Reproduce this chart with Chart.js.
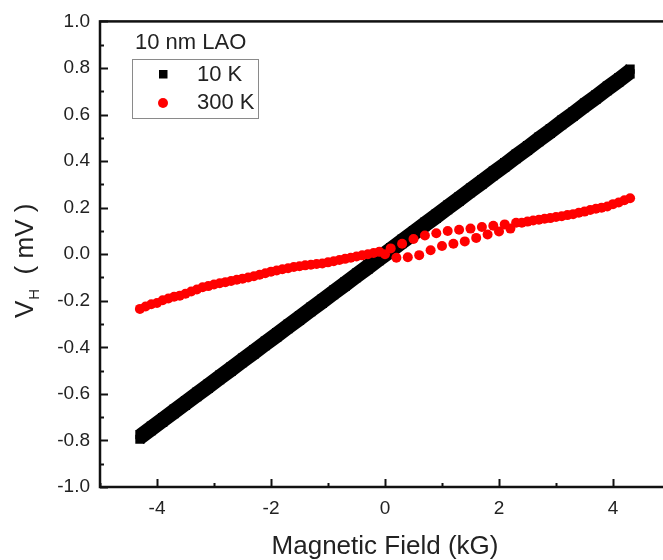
<!DOCTYPE html>
<html>
<head>
<meta charset="utf-8">
<title>Hall voltage, 10 nm LAO</title>
<script src="https://cdn.jsdelivr.net/npm/chart.js@4"></script>
<style>
  body { margin: 0; background: #fff; }
  #wrap { width: 663px; height: 560px; overflow: hidden; }
</style>
</head>
<body>
<div id="wrap"><canvas id="hall" width="680" height="560"></canvas></div>
<script>
// field sweep points (kG)
const fieldA = [-4.3,-4.1,-3.9,-3.7,-3.5,-3.3,-3.1,-2.9,-2.7,-2.5,-2.3,-2.1,-1.9,-1.7,-1.5,-1.3,-1.1,-0.9,-0.7,-0.5,-0.3,-0.1,
  0.1,0.3,0.5,0.7,0.9,1.1,1.3,1.5,1.7,1.9,2.1,2.3,2.5,2.7,2.9,3.1,3.3,3.5,3.7,3.9,4.1,4.3];
const fieldB = [-4.2,-4.0,-3.8,-3.6,-3.4,-3.2,-3.0,-2.8,-2.6,-2.4,-2.2,-2.0,-1.8,-1.6,-1.4,-1.2,-1.0,-0.8,-0.6,-0.4,-0.2,0.0,
  0.2,0.4,0.6,0.8,1.0,1.2,1.4,1.6,1.8,2.0,2.2,2.4,2.6,2.8,3.0,3.2,3.4,3.6,3.8,4.0,4.2];

// V_H (mV) at 10 K, two sweeps
const vh10Up = [-0.795,-0.758,-0.722,-0.685,-0.649,-0.612,-0.576,-0.539,-0.503,-0.466,-0.43,-0.393,-0.357,-0.32,-0.284,-0.247,-0.211,-0.174,-0.138,-0.101,-0.065,-0.028,
  0.008,0.045,0.081,0.118,0.154,0.191,0.227,0.264,0.3,0.337,0.373,0.41,0.446,0.483,0.519,0.556,0.592,0.629,0.665,0.702,0.738,0.775];
const vh10Down = [-0.775,-0.738,-0.702,-0.665,-0.629,-0.592,-0.556,-0.519,-0.483,-0.446,-0.41,-0.373,-0.337,-0.3,-0.264,-0.227,-0.191,-0.154,-0.118,-0.081,-0.045,-0.008,
  0.028,0.065,0.101,0.138,0.174,0.211,0.247,0.284,0.32,0.357,0.393,0.43,0.466,0.503,0.539,0.576,0.612,0.649,0.685,0.722,0.758,0.795];

// V_H (mV) at 300 K, two sweeps
const vh300A = [-0.235,-0.215,-0.198,-0.183,-0.17,-0.152,-0.137,-0.125,-0.115,-0.105,-0.095,-0.082,-0.07,-0.06,-0.052,-0.045,-0.04,-0.03,-0.02,-0.01,0.0,0.01,
  0.025,0.045,0.065,0.08,0.09,0.1,0.105,0.11,0.117,0.122,0.128,0.135,0.14,0.148,0.155,0.163,0.172,0.183,0.195,0.205,0.222,0.24];
const vh300B = [-0.225,-0.21,-0.19,-0.178,-0.16,-0.142,-0.13,-0.12,-0.11,-0.1,-0.088,-0.075,-0.065,-0.055,-0.048,-0.042,-0.035,-0.025,-0.015,-0.005,0.005,0.0,
  -0.015,-0.013,-0.004,0.017,0.035,0.045,0.055,0.07,0.085,0.098,0.11,0.135,0.145,0.152,0.16,0.168,0.178,0.19,0.2,0.215,0.232];

const legendTitle = '10 nm LAO';
const seriesNames = ['10 K', '300 K'];

const FONT = "'Liberation Sans', Arial, sans-serif";
const TEXT = '#222';

function pts(xs, ys) {
  return xs.map((x, i) => ({x: x, y: ys[i]}));
}

function blackSet(data) {
  return {
    data: data, showLine: true, order: 2,
    borderColor: '#000', borderWidth: 12,
    pointStyle: 'rect', pointRadius: 6.5, pointBackgroundColor: '#000', pointBorderWidth: 0
  };
}
function redSet(data) {
  return {
    data: data, showLine: false, order: 1,
    pointStyle: 'circle', pointRadius: 5, pointBackgroundColor: '#ff0000', pointBorderWidth: 0
  };
}

// frame + inward tick marks on left/bottom axes
const frameTicks = {
  id: 'frameTicks',
  afterDatasetsDraw(chart) {
    const {ctx, chartArea: a, scales: {x, y}} = chart;
    ctx.save();
    ctx.strokeStyle = '#111';
    ctx.lineWidth = 2;
    y.ticks.forEach(t => {
      const py = Math.round(y.getPixelForValue(t.value)) + 0.5;
      const len = t.label ? 8 : 4;
      ctx.beginPath();
      ctx.moveTo(a.left, py);
      ctx.lineTo(a.left + len, py);
      ctx.stroke();
    });
    x.ticks.forEach(t => {
      const px = Math.round(x.getPixelForValue(t.value)) + 0.5;
      const len = t.label ? 8 : 4;
      ctx.beginPath();
      ctx.moveTo(px, a.bottom);
      ctx.lineTo(px, a.bottom - len);
      ctx.stroke();
    });
    ctx.lineWidth = 2.5;
    ctx.strokeRect(a.left, a.top, a.right - a.left, a.bottom - a.top);
    ctx.restore();
  }
};

// y title with subscript, plus the boxed legend
const labelsAndLegend = {
  id: 'labelsAndLegend',
  afterDraw(chart) {
    const ctx = chart.ctx;
    ctx.save();
    ctx.fillStyle = TEXT;
    ctx.textBaseline = 'alphabetic';
    ctx.textAlign = 'left';

    ctx.save();
    ctx.translate(33, 318);
    ctx.rotate(-Math.PI / 2);
    ctx.font = '26px ' + FONT;
    ctx.fillText('V', 0, 0);
    let w = ctx.measureText('V').width;
    ctx.font = '15px ' + FONT;
    ctx.fillText('H', w + 1, 6);
    w += 1 + ctx.measureText('H').width;
    ctx.font = '26px ' + FONT;
    ctx.fillText('  ( mV )', w, 0);
    ctx.restore();

    ctx.font = '22px ' + FONT;
    ctx.textBaseline = 'middle';
    ctx.fillText(legendTitle, 135, 43);

    ctx.strokeStyle = '#8a8a8a';
    ctx.lineWidth = 1;
    ctx.strokeRect(132.5, 59.5, 126, 59);

    const rows = [74, 103];
    const ds = chart.data.datasets;
    ctx.fillStyle = ds[0].pointBackgroundColor;
    ctx.fillRect(159, 70, 8.5, 8.5);
    ctx.fillStyle = ds[2].pointBackgroundColor;
    ctx.beginPath();
    ctx.arc(163, rows[1], 5, 0, Math.PI * 2);
    ctx.fill();

    ctx.fillStyle = TEXT;
    ctx.fillText(seriesNames[0], 197, rows[0] + 1);
    ctx.fillText(seriesNames[1], 197, rows[1]);
    ctx.restore();
  }
};

new Chart(document.getElementById('hall'), {
  type: 'scatter',
  data: {
    datasets: [
      blackSet(pts(fieldA, vh10Up)),
      blackSet(pts(fieldA, vh10Down)),
      redSet(pts(fieldA, vh300A)),
      redSet(pts(fieldB, vh300B))
    ]
  },
  options: {
    responsive: false,
    animation: false,
    layout: { padding: { top: 21, right: 10, left: 0, bottom: 0 } },
    plugins: { legend: { display: false }, tooltip: { enabled: false } },
    scales: {
      x: {
        min: -5, max: 5,
        border: { display: false },
        grid: { display: false, drawTicks: false },
        ticks: {
          stepSize: 1, autoSkip: false, maxRotation: 0, padding: 10,
          color: TEXT, font: { family: FONT, size: 19 },
          callback: v => (Math.round(v) % 2 === 0 ? String(Math.round(v)) : '')
        },
        title: {
          display: true, text: 'Magnetic Field (kG)', color: TEXT,
          font: { family: FONT, size: 26, lineHeight: 1 }, padding: { top: 0, bottom: 0 }
        },
        afterFit: s => { s.height = 73; }
      },
      y: {
        min: -1, max: 1,
        border: { display: false },
        grid: { display: false, drawTicks: false },
        ticks: {
          stepSize: 0.1, autoSkip: false, padding: 10,
          color: TEXT, font: { family: FONT, size: 19 },
          callback: v => {
            const n = Math.round(v * 10);
            return n % 2 === 0 ? (n / 10).toFixed(1) : '';
          }
        },
        afterFit: s => { s.width = 100; }
      }
    }
  },
  plugins: [frameTicks, labelsAndLegend]
});
</script>
</body>
</html>
